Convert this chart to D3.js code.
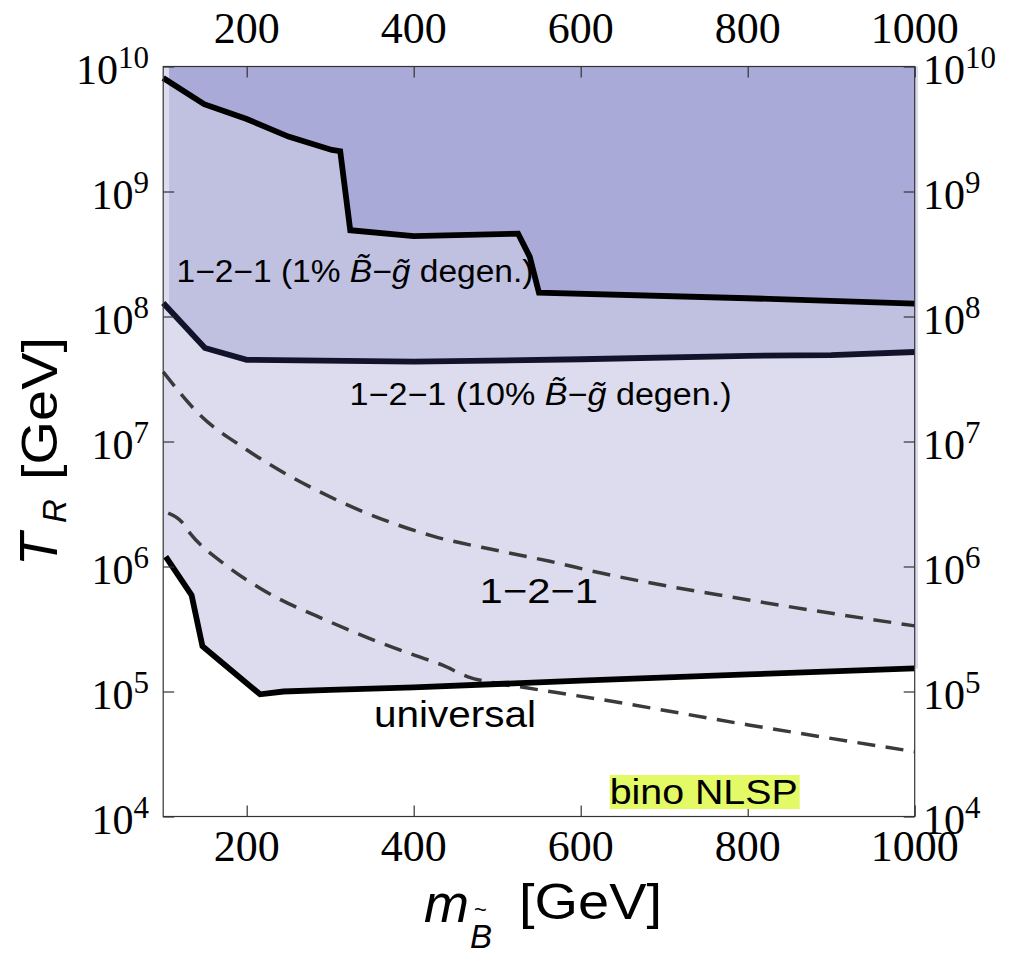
<!DOCTYPE html>
<html><head><meta charset="utf-8">
<script src="https://cdn.jsdelivr.net/npm/d3@7"></script>
<style>html,body{margin:0;padding:0;background:#fff}</style>
</head><body>
<svg id="c" width="1018" height="960"></svg>
<script>
// ---- data ----
const xTickValues = [200, 400, 600, 800, 1000];
const yTickExponents = [4, 5, 6, 7, 8, 9, 10];
const xDomain = [100, 1000];
const yDomain = [1e4, 1e10];

// boundaries: [m_Bino (GeV), T_R (GeV)]
const line1pct = [[100,8.1e9],[149,5.0e9],[200,3.8e9],[250,2.75e9],[302,2.15e9],[312,2.1e9],[324,4.9e8],[400,4.4e8],[525,4.6e8],[539,3.0e8],[550,1.55e8],[800,1.4e8],[1000,1.27e8]];
const line10pct = [[100,1.28e8],[150,5.6e7],[200,4.5e7],[400,4.35e7],[600,4.55e7],[800,4.85e7],[900,4.9e7],[1000,5.2e7]];
const lineUniversal = [[103,1.2e6],[134,5.9e5],[147,2.3e5],[166,1.8e5],[216,9.5e4],[244,1.0e5],[300,1.03e5],[400,1.08e5],[600,1.22e5],[800,1.37e5],[1000,1.53e5]];
const dashed121 = [[100,3.6e7],[144,1.63e7],[200,8.6e6],[304,3.5e6],[423,1.75e6],[503,1.33e6],[563,1.1e6],[623,8.9e5],[801,5.4e5],[1000,3.35e5]];
const dashedUniversal = [[106,2.67e6],[122,2.28e6],[132,1.85e6],[172,1.06e6],[216,6.7e5],[300,3.6e5],[346,2.67e5],[400,1.96e5],[434,1.63e5],[465,1.31e5],[500,1.16e5],[535,1.07e5],[571,9.8e4],[607,9.0e4],[801,5.4e4],[1000,3.3e4]];
const lightRegionX = [100, 1004];
const shadedRegionX = [107, 1000];

// ---- drawing ----
const svg = d3.select("#c");
const x = d3.scaleLinear().domain(xDomain).range([163.2, 914.7]);
const y = d3.scaleLog().domain(yDomain).range([816.5, 66.5]);
const yTop = y(yDomain[1]), yBot = y(yDomain[0]);

svg.append("defs").append("clipPath").attr("id","shade")
  .append("rect").attr("x", x(shadedRegionX[0])).attr("y", yTop)
  .attr("width", x(shadedRegionX[1]) - x(shadedRegionX[0])).attr("height", yBot - yTop);

const area = d3.area().x(d => x(d[0])).y0(d => y(d[1])).y1(yTop);
const lightData = [[lightRegionX[0], lineUniversal[0][1]], ...lineUniversal, [lightRegionX[1], lineUniversal[lineUniversal.length-1][1]]];
svg.append("path").attr("d", area(lightData)).attr("fill", "#dcdcee");
svg.append("path").attr("d", area(line10pct)).attr("fill", "#c0c1e1").attr("clip-path","url(#shade)");
svg.append("path").attr("d", area(line1pct)).attr("fill", "#a9aad7").attr("clip-path","url(#shade)");

const lin = d3.line().x(d => x(d[0])).y(d => y(d[1]));
const smooth = d3.line().x(d => x(d[0])).y(d => y(d[1])).curve(d3.curveMonotoneX);

[dashed121, dashedUniversal].forEach(dd => {
  svg.append("path").attr("d", smooth(dd)).attr("fill","none")
    .attr("stroke","#3a3a3a").attr("stroke-width",3.5).attr("stroke-dasharray","18,10.5");
});
[[line1pct,"#000"],[line10pct,"#12122a"],[lineUniversal,"#000"]].forEach(([dd,c]) => {
  svg.append("path").attr("d", lin(dd)).attr("fill","none")
    .attr("stroke",c).attr("stroke-width",5.8).attr("stroke-linejoin","miter").attr("stroke-miterlimit",3);
});

// frame
svg.append("rect").attr("x", x(xDomain[0])).attr("y", yTop)
  .attr("width", x(xDomain[1]) - x(xDomain[0])).attr("height", yBot - yTop)
  .attr("fill","none").attr("stroke","#333").attr("stroke-width",1.2);

// ticks with d3 axes
const yTicks = yTickExponents.map(e => Math.pow(10, e));
const axes = [
  [d3.axisTop(x).tickValues(xTickValues), `translate(0,${yTop})`],
  [d3.axisBottom(x).tickValues(xTickValues), `translate(0,${yBot})`],
  [d3.axisLeft(y).tickValues(yTicks), `translate(${x(xDomain[0])},0)`],
  [d3.axisRight(y).tickValues(yTicks), `translate(${x(xDomain[1])},0)`]
];
axes.forEach(([ax, tr]) => {
  const g = svg.append("g").attr("transform", tr)
    .call(ax.tickSize(-11).tickSizeOuter(0).tickFormat(""));
  g.select(".domain").remove();
  g.selectAll("text").remove();
  g.selectAll("line").attr("stroke","#333").attr("stroke-width",1.2);
});

// tick labels
const serif = "'Liberation Serif','Times New Roman',serif";
const sans = "'Liberation Sans',Arial,Helvetica,sans-serif";
xTickValues.forEach(v => {
  [43, 861].forEach(yy => {
    svg.append("text").attr("x", x(v)).attr("y", yy).attr("text-anchor","middle")
      .attr("font-family", serif).attr("font-size", 44).text(v);
  });
});
yTickExponents.forEach(e => {
  const yy = y(Math.pow(10, e));
  [[149,"end"],[923,"start"]].forEach(([xx, anc]) => {
    const t = svg.append("text").attr("x", xx).attr("y", yy + 17).attr("text-anchor", anc)
      .attr("font-family", serif).attr("font-size", 42);
    t.append("tspan").text("10");
    t.append("tspan").attr("font-size", 31).attr("dy", -16).text(e);
  });
});

// annotations
function label(xx, yy, size, len, parts) {
  const t = svg.append("text").attr("x", xx).attr("y", yy)
    .attr("font-family", sans).attr("font-size", size)
    .attr("textLength", len).attr("lengthAdjust", "spacingAndGlyphs");
  parts.forEach(([s, it]) => {
    const ts = t.append("tspan").text(s);
    if (it) ts.attr("font-style", "italic");
  });
  return t;
}
label(176.5, 282, 31, 357, [["1−2−1 (1% ",0],["B\u0303",1],["−",0],["g\u0303",1],[" degen.)",0]]);
label(349.6, 405, 31, 382, [["1−2−1 (10% ",0],["B\u0303",1],["−",0],["g\u0303",1],[" degen.)",0]]);
label(479.5, 603.3, 35, 118.5, [["1−2−1",0]]);
label(374, 726.7, 36, 162, [["universal",0]]);
const bino = label(609.7, 803.5, 35, 188, [["bino NLSP",0]]);
const bb = bino.node().getBBox();
svg.insert("rect", () => bino.node())
  .attr("x", bb.x).attr("y", 803.5 - 28.5).attr("width", bb.width + 2).attr("height", 34)
  .attr("fill", "#e3fa66");

// axis titles
const yl = svg.append("g").attr("transform", "translate(57,566) rotate(-90)")
  .attr("font-family", sans);
yl.append("text").attr("x", 0).attr("y", 0).attr("font-size", 54).attr("font-style","italic").text("T");
yl.append("text").attr("x", 43).attr("y", 9).attr("font-size", 33).attr("font-style","italic").text("R");
yl.append("text").attr("x", 86).attr("y", 0).attr("font-size", 50)
  .attr("textLength", 143).attr("lengthAdjust","spacingAndGlyphs").text("[GeV]");

const xl = svg.append("g").attr("font-family", sans);
xl.append("text").attr("x", 424).attr("y", 922).attr("font-size", 54).attr("font-style","italic").text("m");
xl.append("text").attr("x", 470).attr("y", 948).attr("font-size", 33).attr("font-style","italic").text("B");
xl.append("text").attr("x", 474).attr("y", 917).attr("font-size", 22).text("~");
xl.append("text").attr("x", 519).attr("y", 919).attr("font-size", 50)
  .attr("textLength", 143).attr("lengthAdjust","spacingAndGlyphs").text("[GeV]");
</script>
</body></html>
